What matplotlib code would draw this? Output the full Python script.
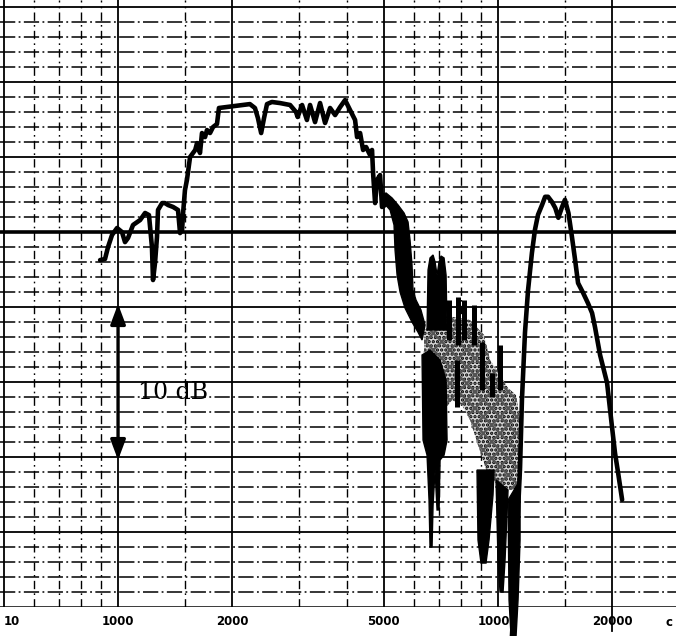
import matplotlib
matplotlib.use("Agg")
import matplotlib.pyplot as plt
from matplotlib.ticker import NullLocator

# ---- level recording: frequency (Hz) against level (dB) ----
low_freq = [897, 924, 941, 964, 994, 1024, 1043, 1062, 1095, 1143, 1178, 1206,
            1228, 1236, 1251, 1266, 1274, 1306, 1329, 1354, 1396, 1438, 1456,
            1474, 1483, 1500, 1518, 1547, 1596, 1614, 1643, 1663, 1694, 1714,
            1746, 1778, 1821, 1843, 2223, 2292, 2334, 2380, 2422, 2466, 2540,
            2667, 2836, 2940, 2969, 3050, 3141, 3201, 3299, 3401, 3506, 3614,
            3726, 3840, 3958, 4080, 4205, 4256, 4335, 4414, 4495, 4605, 4660,
            4690, 4747, 4805, 4893, 4951, 5045]
low_level = [-1.87, -1.8, -1.0, -0.2, 0.27, 0.0, -0.67, -0.4, 0.47, 0.8, 1.27,
             1.13, -1.0, -3.2, -2.07, -0.33, 1.47, 1.93, 1.93, 1.8, 1.67, 1.47,
             -0.07, 0.13, 1.27, 2.8, 3.47, 5.0, 5.47, 5.93, 5.27, 6.6, 6.33,
             6.8, 6.6, 7.0, 7.2, 8.27, 8.53, 8.27, 7.6, 6.6, 7.6, 8.53, 8.67,
             8.6, 8.47, 8.0, 7.67, 8.47, 7.47, 8.47, 7.33, 8.6, 7.27, 8.27,
             7.8, 8.33, 8.8, 8.13, 7.47, 6.33, 6.6, 5.47, 5.67, 5.13, 5.47,
             3.93, 1.93, 3.47, 3.8, 1.67, 1.8]

high_freq = [10880, 11019, 11214, 11427, 11558, 11774, 11992, 12278, 12507,
             12740, 13054, 13303, 13540, 13870, 14149, 14411, 14730, 15000,
             15327, 15655, 15950, 16240, 16740, 17250, 17680, 18000, 18560,
             19360, 19950, 20320, 20700, 21210]
high_level = [-26.93, -24.5, -20.1, -15.7, -11.2, -6.7, -3.9, -1.4, 0.15, 1.15,
              1.8, 2.35, 2.35, 2.0, 1.6, 0.95, 1.65, 2.15, 1.25, -0.35, -1.85,
              -3.4, -4.05, -4.75, -5.4, -6.35, -8.2, -10.05, -13.0, -14.75,
              -16.05, -17.85]

# dense pen excursions (outlines of the inked areas)
burst_freq = [4892, 5012, 5198, 5325, 5358, 5424, 5523, 5692, 5937, 6156, 6310,
              6426, 6268, 6082, 5973, 5937, 5866, 5796, 5657, 5457, 5261, 5074]
burst_level = [2.47, 1.93, 1.47, 0.47, -1.2, -2.87, -4.0, -5.07, -6.0, -6.67,
               -7.2, -6.2, -5.2, -4.53, -3.87, -2.2, -0.53, 0.67, 1.27, 1.8,
               2.27, 2.6]

cluster_freq = [6504, 6544, 6623, 6745, 6827, 6911, 6995, 7079, 7210, 7298, 7342]
cluster_level = [-6.53, -2.53, -1.73, -1.53, -2.0, -2.87, -2.0, -1.6, -1.73,
                 -2.87, -6.53]

stipple_freq = [6387, 7342, 8438, 9185, 9526, 10000, 10625, 11153, 11427, 11567,
                11427, 10755, 10000, 9411, 8857, 8438, 8040, 7568, 7037, 6623,
                6387]
stipple_level = [-6.53, -5.6, -5.87, -6.87, -8.53, -9.33, -10.4, -10.87, -12.53,
                 -15.87, -17.2, -17.2, -16.87, -16.2, -14.2, -12.53, -11.53,
                 -11.2, -12.2, -13.2, -11.2]

deep1_freq = [6310, 6348, 6504, 6583, 6623, 6704, 6745, 6827, 6911, 6995, 7037,
              7210, 7342, 7298, 7037, 6623]
deep1_level = [-8.2, -13.87, -14.87, -17.87, -21.0, -21.0, -18.2, -15.87,
               -18.53, -18.53, -15.2, -14.87, -13.87, -9.87, -8.53, -7.87]
deep2_freq = [8804, 8857, 9020, 9296, 9469, 9700, 9759]
deep2_level = [-15.87, -20.53, -22.07, -22.07, -20.53, -17.53, -15.87]
deep3_freq = [9879, 10000, 10122, 10308, 10433, 10625]
deep3_level = [-16.53, -21.87, -24.0, -24.0, -21.87, -17.2]
deep4_freq = [10625, 10690, 10820, 11153, 11289, 11427, 11427]
deep4_level = [-17.87, -24.53, -26.93, -26.93, -24.53, -20.53, -16.53]

spike_freq = [7432, 7847, 8138, 8645, 9074, 9642, 10122, 7800]
spike_top = [-4.53, -4.33, -4.53, -4.87, -7.33, -9.4, -7.53, -8.53]
spike_bottom = [-7.2, -7.5, -7.2, -7.5, -10.5, -11.0, -10.5, -11.67]

# chart paper
grid_freqs = [500, 600, 700, 800, 900, 1000, 1500, 2000, 3000, 4000, 5000,
              6000, 7000, 8000, 9000, 10000, 15000, 20000]
bold_freqs = [500, 1000, 2000, 5000, 10000, 20000]
grid_levels = list(range(-25, 16))
tick_freqs = [500, 1000, 2000, 5000, 10000, 20000]
tick_labels = ["10", "1000", "2000", "5000", "10000", "20000"]

plt.rcParams["hatch.linewidth"] = 1.6

fig = plt.figure(figsize=(6.76, 6.36), dpi=100)
ax = fig.add_axes([0.0, 1 - 607 / 636, 1.0, 607 / 636])
ax.set_xscale("log")
ax.set_xlim(489, 29400)
ax.set_ylim(-25, 15.47)
for s in ax.spines.values():
    s.set_visible(False)

paper_dash = (0, (10, 2.2, 1.2, 2.2))
for f in grid_freqs:
    if f in bold_freqs:
        ax.axvline(f, color="black", lw=1.3, zorder=1)
    else:
        ax.axvline(f, color="black", lw=1.0, ls=(0, (6, 3, 1.2, 3)), zorder=1)
for lv in grid_levels:
    if lv == 0:
        ax.axhline(lv, color="black", lw=2.6, zorder=1)
    elif lv == -25:
        ax.axhline(lv, color="black", lw=1.8, zorder=1)
    elif lv % 5 == 0:
        ax.axhline(lv, color="black", lw=1.3, zorder=1)
    else:
        ax.axhline(lv, color="black", lw=1.1, ls=paper_dash, zorder=1)

# grid line at 20 kHz runs slightly past the paper edge
ax.plot([20000, 20000], [-25, -26.6], color="black", lw=1.3, clip_on=False)

# speckled band of the fast excursions
ax.fill(stipple_freq, stipple_level, facecolor="#d4d4d4", edgecolor="black",
        linewidth=0, hatch="....", zorder=2)
ax.fill(stipple_freq, stipple_level, facecolor="none", edgecolor="#555555",
        linewidth=0, hatch="xx", zorder=2)
for fx, lx in [(burst_freq, burst_level), (cluster_freq, cluster_level),
               (deep1_freq, deep1_level), (deep2_freq, deep2_level),
               (deep3_freq, deep3_level)]:
    ax.fill(fx, lx, facecolor="black", edgecolor="black", lw=1.0, zorder=3)
ax.fill(deep4_freq, deep4_level, facecolor="black", edgecolor="black", lw=1.0,
        zorder=3, clip_on=False)
ax.vlines(spike_freq, spike_bottom, spike_top, colors="black", lw=3.6, zorder=3)

pen = dict(color="black", lw=3.3, solid_joinstyle="round",
           solid_capstyle="round", zorder=4)
ax.plot(low_freq, low_level, **pen)
ax.plot(high_freq, high_level, clip_on=False, **pen)

# 10 dB scale marker
ax.annotate("", xy=(1000, -4.8), xytext=(1000, -15.2),
            arrowprops=dict(arrowstyle="<|-|>,head_length=1.2,head_width=0.45",
                            color="black", lw=2.4, mutation_scale=10,
                            shrinkA=0, shrinkB=0), zorder=5)
ax.text(1129, -10.7, "10 dB", family="DejaVu Serif", fontsize=17,
        ha="left", va="center", color="black", zorder=5)

ax.set_xticks(tick_freqs, tick_labels)
ax.xaxis.set_minor_locator(NullLocator())
ax.set_yticks([])
ax.tick_params(axis="x", length=0, pad=6, labelsize=8.5)
for i, lab in enumerate(ax.get_xticklabels()):
    lab.set_fontweight("bold")
    if i == 0:
        lab.set_horizontalalignment("left")
fig.text(665 / 676, 1 - 623 / 636, "c", fontsize=8.5, fontweight="bold",
         ha="left", va="center")

fig.savefig("out.png", dpi=100, facecolor="white")
